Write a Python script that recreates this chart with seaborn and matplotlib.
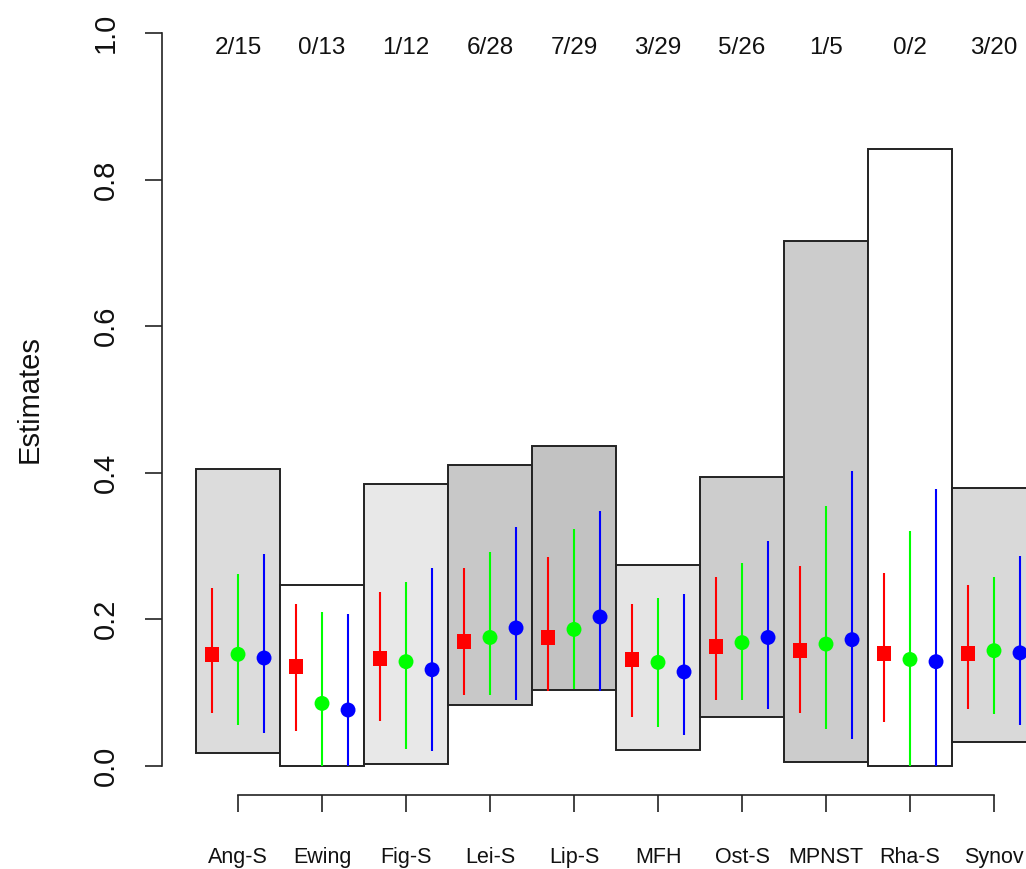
import matplotlib
matplotlib.use("Agg")
import matplotlib.pyplot as plt
import seaborn as sns
import pandas as pd
import numpy as np

# ---------------- data ----------------
categories = ["Ang-S", "Ewing", "Fig-S", "Lei-S", "Lip-S", "MFH", "Ost-S", "MPNST", "Rha-S", "Synov"]
count_labels = ["2/15", "0/13", "1/12", "6/28", "7/29", "3/29", "5/26", "1/5", "0/2", "3/20"]

box_low = [0.017, 0.0, 0.002, 0.083, 0.103, 0.022, 0.066, 0.005, 0.0, 0.032]
box_high = [0.405, 0.247, 0.385, 0.410, 0.436, 0.274, 0.394, 0.716, 0.842, 0.379]
box_gray = ["#dcdcdc", "#ffffff", "#e8e8e8", "#c8c8c8", "#c2c2c2",
            "#e5e5e5", "#cdcdcd", "#cccccc", "#ffffff", "#d9d9d9"]

red_est = [0.152, 0.135, 0.146, 0.169, 0.175, 0.145, 0.163, 0.157, 0.153, 0.153]
red_lo = [0.072, 0.048, 0.061, 0.097, 0.102, 0.067, 0.089, 0.072, 0.059, 0.078]
red_hi = [0.243, 0.221, 0.237, 0.270, 0.285, 0.221, 0.258, 0.272, 0.263, 0.246]

green_est = [0.152, 0.085, 0.142, 0.175, 0.186, 0.141, 0.168, 0.166, 0.145, 0.157]
green_lo = [0.056, 0.0, 0.023, 0.097, 0.105, 0.053, 0.089, 0.050, 0.0, 0.070]
green_hi = [0.262, 0.210, 0.251, 0.291, 0.323, 0.229, 0.277, 0.355, 0.321, 0.258]

blue_est = [0.147, 0.076, 0.131, 0.188, 0.203, 0.128, 0.175, 0.172, 0.142, 0.154]
blue_lo = [0.045, 0.0, 0.020, 0.089, 0.102, 0.042, 0.078, 0.037, 0.0, 0.056]
blue_hi = [0.289, 0.207, 0.270, 0.326, 0.348, 0.235, 0.307, 0.402, 0.378, 0.286]

y_ticks = [0.0, 0.2, 0.4, 0.6, 0.8, 1.0]
y_tick_labels = ["0.0", "0.2", "0.4", "0.6", "0.8", "1.0"]

# ---------------- style ----------------
sns.set_style("ticks")
plt.rcParams["font.family"] = ["Liberation Sans", "DejaVu Sans"]
plt.rcParams["text.color"] = "#111111"
plt.rcParams["axes.labelcolor"] = "#111111"
plt.rcParams["xtick.color"] = "#222222"
plt.rcParams["ytick.color"] = "#222222"
plt.rcParams["xtick.labelcolor"] = "#111111"
plt.rcParams["ytick.labelcolor"] = "#111111"

fig = plt.figure(figsize=(10.26, 8.69), dpi=100)
ax = fig.add_axes([162 / 1026, 74 / 869, 1 - 162 / 1026, 865.3 / 869 - 74 / 869])

pos = np.arange(1, len(categories) + 1)

# boxes (exact CI)
ax.bar(pos, np.array(box_high) - np.array(box_low), bottom=box_low, width=1.0,
       color=box_gray, edgecolor="#222222", linewidth=1.4, zorder=1)

# long-form table of estimates
offsets = {"red": -0.31, "green": 0.0, "blue": 0.31}
series = {"red": (red_est, red_lo, red_hi),
          "green": (green_est, green_lo, green_hi),
          "blue": (blue_est, blue_lo, blue_hi)}
rows = []
for name, (est, lo, hi) in series.items():
    for i, c in enumerate(categories):
        rows.append(dict(method=name, category=c, x=pos[i] + offsets[name],
                         est=est[i], lo=lo[i], hi=hi[i]))
df = pd.DataFrame(rows)

palette = {"red": "#ff0000", "green": "#00ff00", "blue": "#0000ff"}
for name, sub in df.groupby("method"):
    ax.vlines(sub["x"], sub["lo"], sub["hi"], color=palette[name], linewidth=1.5, zorder=2)

sns.scatterplot(data=df, x="x", y="est", hue="method", style="method",
                markers={"red": "s", "green": "o", "blue": "o"},
                palette=palette, s=115, linewidth=0, legend=False, ax=ax, zorder=3)

# count labels at top
for i, lab in enumerate(count_labels):
    ax.text(pos[i], 0.979, lab, ha="center", va="center", fontsize=17.5)

# axes
ax.set_xlim(0.095, 10.381)
ax.set_ylim(-0.04, 1.04)
ax.set_xticks(pos)
ax.set_xticklabels(categories, fontsize=15.5)
ax.set_yticks(y_ticks)
ax.set_yticklabels(y_tick_labels, fontsize=21, rotation=90, va="center")
ax.tick_params(axis="x", bottom=True, length=12.5, width=1.2, pad=25, direction="out")
ax.tick_params(axis="y", left=True, length=12.5, width=1.2, pad=18, direction="out")
ax.set_xlabel("")
ax.set_ylabel("Estimates", fontsize=21)
ax.yaxis.label.set_va("center")
ax.yaxis.set_label_coords((30 - 162) / (1026 - 162), 0.5)

for s in ["top", "right"]:
    ax.spines[s].set_visible(False)
ax.spines["left"].set_bounds(0, 1)
ax.spines["bottom"].set_bounds(1, 10)
for s in ["left", "bottom"]:
    ax.spines[s].set_color("#222222")
    ax.spines[s].set_linewidth(1.2)
ax.patch.set_alpha(0)
for t in ax.get_yticklabels():
    t.set_va("center")

fig.savefig("out.png", dpi=100)
